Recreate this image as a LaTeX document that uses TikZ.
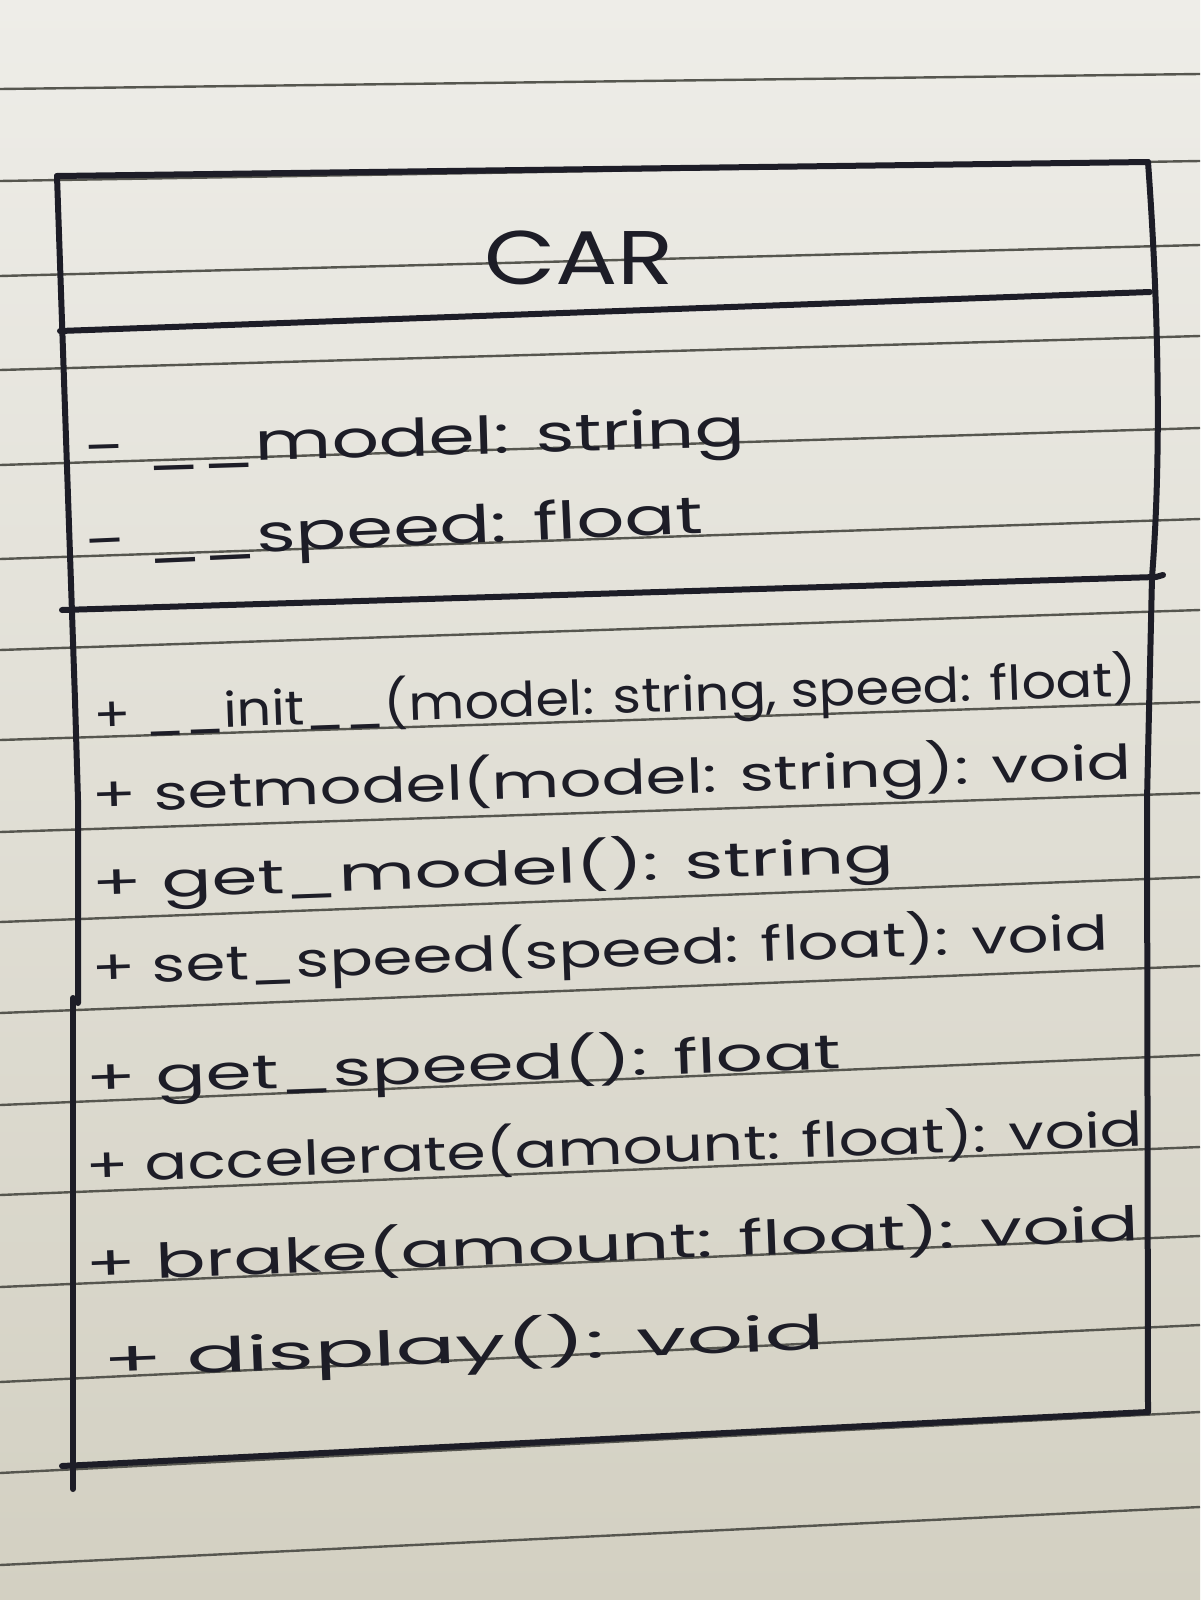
\documentclass[tikz,border=0pt]{standalone}
\usepackage{fontspec}
\setmainfont{Poppins}
\usepackage{graphicx}

\definecolor{ink}{HTML}{1D1D27}
\definecolor{rulegray}{HTML}{56564F}
\definecolor{papertop}{HTML}{EEEDE8}
\definecolor{papermid}{HTML}{E3E1D7}
\definecolor{paperbot}{HTML}{D3D0C2}

\tikzset{
  pen/.style={draw=ink, line width=3pt, line cap=round, line join=round},
  ruling/.style={draw=rulegray, line width=1.2pt},
  entry/.style={anchor=base west, inner sep=0pt, outer sep=0pt, text=ink,
                font=\fontsize{24}{28}\selectfont},
}

% stretch a line of text horizontally to a given width, keeping its height
\newcommand{\fitto}[2]{\resizebox{#1}{\height}{#2}}

\begin{document}
\begin{tikzpicture}[x=0.5pt, y=-0.5pt]
  % sheet of ruled paper
  \shade[top color=papertop, middle color=papermid, bottom color=paperbot]
    (0,0) rectangle (1200,1600);
  \useasboundingbox (0,0) rectangle (1200,1600);
  \foreach \l/\r in {89/74, 181/161, 276/245, 370/336, 465/428, 559/519,
                     650/610, 740/702, 832/793, 922/877, 1013/966, 1105/1055,
                     1195/1147, 1287/1236, 1382/1325, 1473/1412, 1565/1507}
    \draw[ruling] (0,\l) -- (1200,\r);

  % class box outline
  \coordinate (tl) at (57,176);
  \coordinate (tr) at (1148,162);
  \coordinate (bl) at (62,1466);
  \coordinate (br) at (1148,1412);
  \draw[pen] (tl) -- (tr);
  \draw[pen] (tl) -- (75,700) -- (78,800) -- (78,1003);
  \draw[pen] (73,998) -- (73,1489);
  \draw[pen] (tr) .. controls (1158,300) and (1162,450) .. (1152,577)
             -- (1147,800) -- (br);
  \draw[pen] (bl) -- (br);
  % compartment dividers
  \draw[pen] (60,331) -- (1150,292);
  \draw[pen] (62,610) -- (1156,577) -- (1163,575);

  % class name
  \node[entry, font=\fontsize{38}{42}\selectfont] (name) at (484,284)
    {\fitto{95pt}{CAR}};

  % attributes
  \node[entry, font=\fontsize{26}{30}\selectfont, rotate=1.7] (attrmodel)
    at (86,466) {\fitto{330pt}{- \_\_model: string}};
  \node[entry, font=\fontsize{26}{30}\selectfont, rotate=2.5] (attrspeed)
    at (86,560) {\fitto{309pt}{- \_\_speed: float}};

  % operations
  \node[entry, rotate=2.0] (opinit) at (94,732)
    {\fitto{522pt}{+ \_\_init\_\_(model: string, speed: float)}};
  \node[entry, rotate=1.8] (opsetmodel) at (92,812)
    {\fitto{520pt}{+ setmodel(model: string): void}};
  \node[entry, rotate=2.0] (opgetmodel) at (92,900)
    {\fitto{401.5pt}{+ get\_model(): string}};
  \node[entry, rotate=2.0] (opsetspeed) at (92,985)
    {\fitto{508.5pt}{+ set\_speed(speed: float): void}};
  \node[entry, rotate=2.0] (opgetspeed) at (86,1095)
    {\fitto{378pt}{+ get\_speed(): float}};
  \node[entry, rotate=2.0] (opaccel) at (86,1183)
    {\fitto{529pt}{+ accelerate(amount: float): void}};
  \node[entry, rotate=2.2] (opbrake) at (86,1281)
    {\fitto{527pt}{+ brake(amount: float): void}};
  \node[entry, rotate=2.2] (opdisplay) at (103,1377)
    {\fitto{361.5pt}{+ display(): void}};
\end{tikzpicture}
\end{document}
